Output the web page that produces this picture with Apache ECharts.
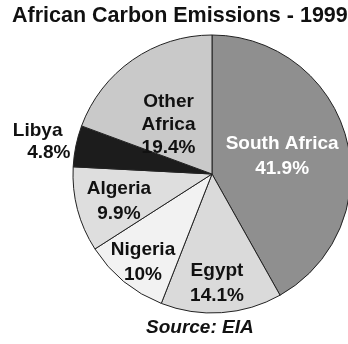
<!DOCTYPE html>
<html>
<head>
<meta charset="utf-8">
<script src="https://cdn.jsdelivr.net/npm/echarts@6/dist/echarts.min.js"></script>
<style>
  html, body { margin: 0; padding: 0; background: #ffffff; }
  #chart { width: 348px; height: 344px; }
</style>
</head>
<body>
<div id="chart"></div>
<script>
// Share of 1999 carbon emissions by country (percent)
const countries = ['South Africa', 'Egypt', 'Nigeria', 'Algeria', 'Libya', 'Other Africa'];
const shares = [41.9, 14.1, 10, 9.9, 4.8, 19.4];

// Slice fills and label placement tweaks (pixels from the default inside spot)
const sliceColors = ['#8f8f8f', '#dadada', '#f2f2f2', '#dedede', '#1c1c1c', '#c9c9c9'];
const labelColors = ['#ffffff', '#111111', '#111111', '#111111', '#111111', '#111111'];
const labelShift = [[0, 1], [0, 37], [-23, 32], [-23, 9], [-102, -18], [-2, 10]];

const chart = echarts.init(document.getElementById('chart'), null, { renderer: 'canvas' });

const FONT = '"Liberation Sans", Arial, sans-serif';
const tagText = { fontFamily: FONT, fontSize: 19, fontWeight: 'bold', lineHeight: 22, color: '#111111', align: 'right' };

chart.setOption({
  backgroundColor: '#ffffff',
  animation: false,
  title: [
    {
      text: 'African Carbon Emissions - 1999',
      left: 12,
      top: 5,
      padding: 0,
      textStyle: { fontFamily: FONT, fontSize: 21.5, fontWeight: 'bold', color: '#111111' }
    },
    {
      text: 'Source: EIA',
      left: 146,
      top: 318,
      padding: 0,
      textStyle: { fontFamily: FONT, fontSize: 19, fontWeight: 'bold', fontStyle: 'italic', color: '#111111' }
    }
  ],
  series: [{
    type: 'pie',
    center: [212, 174],
    radius: [0, 139],
    startAngle: 90,
    clockwise: true,
    avoidLabelOverlap: false,
    itemStyle: { borderColor: '#222222', borderWidth: 1 },
    label: {
      show: true,
      position: 'inside',
      fontFamily: FONT,
      fontSize: 19,
      fontWeight: 'bold',
      lineHeight: 25,
      formatter: p => {
        const name = p.name.replace('Other Africa', 'Other\nAfrica');
        if (p.name === 'Libya') {
          // two-line tag beside the dark slice, percentage sitting a little further right
          return '{n|' + name + '}\n{v|' + p.value + '%}';
        }
        return name + '\n' + p.value + '%';
      },
      rich: {
        n: Object.assign({ width: 55, padding: [0, 8, 0, 0] }, tagText),
        v: Object.assign({ width: 55 }, tagText)
      }
    },
    labelLine: { show: false },
    labelLayout: p => ({
      dx: labelShift[p.dataIndex][0],
      dy: labelShift[p.dataIndex][1]
    }),
    emphasis: { disabled: true },
    data: countries.map((name, i) => ({
      name: name,
      value: shares[i],
      itemStyle: { color: sliceColors[i] },
      label: name === 'Other Africa'
        ? { color: labelColors[i], lineHeight: 23 }
        : { color: labelColors[i] }
    }))
  }]
});
</script>
</body>
</html>
